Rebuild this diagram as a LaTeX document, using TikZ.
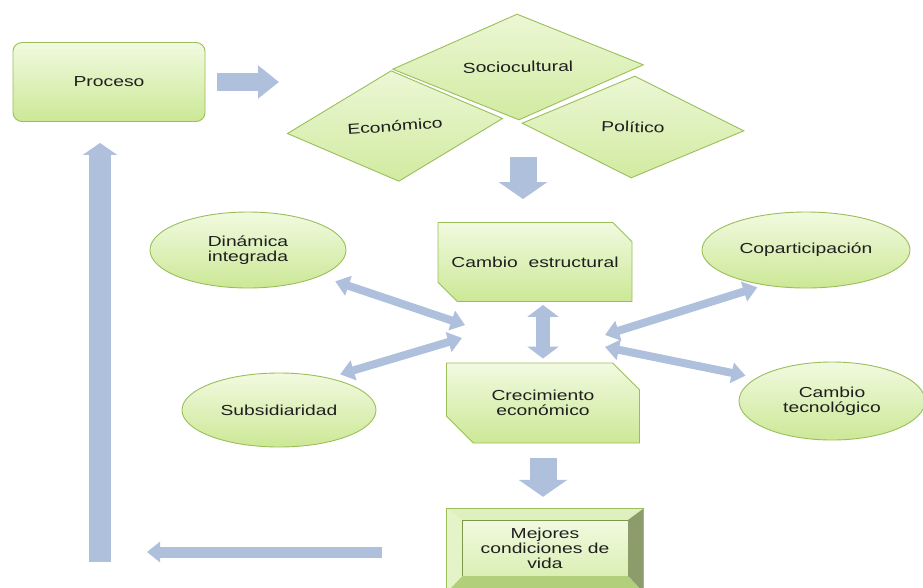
\documentclass[tikz,border=0pt]{standalone}
\usepackage{fontspec}
\setmainfont[FakeStretch=1.33]{Liberation Sans}
\usepackage{tikz}
\usetikzlibrary{positioning}
\usetikzlibrary{calc}
\usetikzlibrary{arrows.meta}
\usetikzlibrary{shapes.geometric}
\usetikzlibrary{shapes.misc}

\definecolor{leafTop}{RGB}{241,250,224}
\definecolor{leafBot}{RGB}{204,232,150}
\definecolor{leafLine}{RGB}{155,190,90}
\definecolor{flowBlue}{RGB}{175,192,221}
\definecolor{bevelTop}{RGB}{222,240,190}
\definecolor{bevelLeft}{RGB}{228,244,200}
\definecolor{bevelRight}{RGB}{140,156,106}
\definecolor{bevelBot}{RGB}{178,207,124}

\begin{document}
\begin{tikzpicture}[x=1pt, y=-1pt,
    every node/.style={font=\fontsize{14.5}{15}\selectfont, text=black!88, align=center, inner sep=0pt},
    leaf/.style={draw=leafLine, line width=0.9pt, top color=leafTop, bottom color=leafBot},
    procbox/.style={leaf, rounded corners=9pt, minimum width=192pt, minimum height=79pt},
    rhomb/.style={leaf, diamond, aspect=2.2, top color=leafTop!85!leafBot, bottom color=leafBot!85!leafTop},
    cutbox/.style={leaf, chamfered rectangle, chamfered rectangle corners={north east, south west},
        chamfered rectangle xsep=15pt, chamfered rectangle ysep=14pt},
    oval/.style={leaf, ellipse},
    face/.style={draw=leafLine!80!black, line width=0.4pt, top color=leafTop, bottom color=leafBot!60!leafTop,
        minimum width=166pt, minimum height=56pt},
    flow/.style={flowBlue, line width=8pt, {Triangle[width=20pt,length=14pt]}-{Triangle[width=20pt,length=14pt]}},
    vflow/.style={flowBlue, line width=14pt, {Triangle[width=31pt,length=12pt]}-{Triangle[width=31pt,length=12pt]}},
    bigdown/.style={flowBlue, line width=27pt, -{Triangle[width=48pt,length=17pt]}},
    fatright/.style={flowBlue, line width=18pt, -{Triangle[width=32pt,length=21pt]}},
    backarrow/.style={flowBlue, line width=11pt, -{Triangle[width=20pt,length=13pt]}},
    uparrow/.style={flowBlue, line width=22pt, -{Triangle[width=34pt,length=12pt]}},
]
    \useasboundingbox (0,0) rectangle (923,587);

    % top row
    \node[procbox] (proceso) at (109,82) {Proceso};
    \node[rhomb, minimum width=216pt, minimum height=111pt, rotate=4] (economico) at (395,126) {Económico};
    \node[rhomb, minimum width=222pt, minimum height=102pt, rotate=-2] (politico) at (633,127) {Político};
    \node[rhomb, minimum width=251pt, minimum height=106pt, rotate=1] (socio) at (518,67) {Sociocultural};

    % middle column
    \node[cutbox, minimum width=194pt, minimum height=79pt] (estructural) at (535,262) {Cambio~ estructural};
    \node[cutbox, minimum width=193pt, minimum height=80pt] (crecimiento) at (543,403) {Crecimiento\\económico};

    % side ellipses
    \node[oval, minimum width=196pt, minimum height=76pt] (dinamica) at (248,250) {Dinámica\\integrada};
    \node[oval, minimum width=194pt, minimum height=74pt] (subsid) at (279,410) {Subsidiaridad};
    \node[oval, minimum width=208pt, minimum height=76pt] (copart) at (806,250) {Coparticipación};
    \node[oval, minimum width=186pt, minimum height=78pt] (tecno) at (832,401) {Cambio\\tecnológico};

    % bevelled box
    \node[face] (mejores) at (545,548) {Mejores\\condiciones de\\vida};
    \coordinate (bNW) at ($(mejores.north west)+(-15,-11)$);
    \coordinate (bNE) at ($(mejores.north east)+(15,-11)$);
    \coordinate (bSE) at ($(mejores.south east)+(15,16)$);
    \coordinate (bSW) at ($(mejores.south west)+(-15,16)$);
    \fill[bevelTop] (bNW) -- (bNE) -- (mejores.north east) -- (mejores.north west) -- cycle;
    \fill[bevelRight] (bNE) -- (bSE) -- (mejores.south east) -- (mejores.north east) -- cycle;
    \fill[bevelBot] (bSE) -- (bSW) -- (mejores.south west) -- (mejores.south east) -- cycle;
    \fill[bevelLeft] (bSW) -- (bNW) -- (mejores.north west) -- (mejores.south west) -- cycle;
    \draw[leafLine, line width=0.9pt] (bNW) rectangle (bSE);

    % free ends of the arrows
    \coordinate (pushTip) at (279,82);
    \coordinate (dropTop) at (523,157);
    \coordinate (backTip) at (147,552);
    \coordinate (riseFoot) at (100,562);
    \coordinate (hubA) at (465,325);
    \coordinate (hubB) at (462,338);
    \coordinate (hubC) at (605,335);
    \coordinate (hubD) at (605,347);

    % arrows
    \draw[fatright, shorten <=12pt] (proceso.east) -- (pushTip);
    \draw[bigdown, shorten >=23pt] (dropTop) -- (estructural.north -| dropTop);
    \draw[vflow, shorten <=3pt, shorten >=4pt] (estructural.south -| crecimiento.north) -- (crecimiento.north);
    \draw[bigdown, shorten <=15pt, shorten >=23pt] (crecimiento.south) -- (crecimiento.south |- mejores.north);
    \draw[backarrow, shorten <=80pt] (mejores.west |- backTip) -- (backTip);
    \draw[uparrow, shorten >=21pt] (riseFoot) -- (riseFoot |- proceso.south);
    \draw[flow, shorten <=16pt] (dinamica.-20) -- (hubA);
    \draw[flow, shorten <=12pt] (subsid.33) -- (hubB);
    \draw[flow, shorten <=7pt] (copart.220) -- (hubC);
    \draw[flow, shorten <=11pt] (tecno.163) -- (hubD);
\end{tikzpicture}
\end{document}
